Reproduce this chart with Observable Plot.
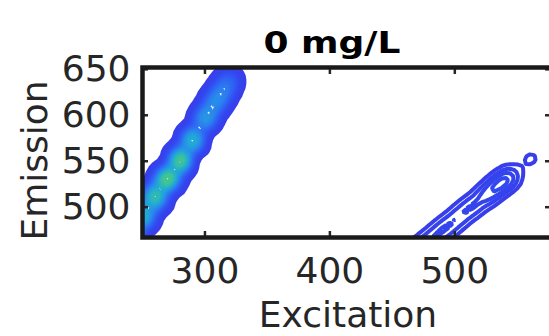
<!DOCTYPE html>
<html><head><meta charset="utf-8">
<script src="https://cdn.jsdelivr.net/npm/d3@7"></script>
<script src="https://cdn.jsdelivr.net/npm/@observablehq/plot@0.6"></script>
<style>
html,body{margin:0;padding:0;background:#fff;}
#wrap{width:549px;height:336px;overflow:hidden;position:relative;font-family:"DejaVu Sans";}
#title{height:50px;position:relative;}
#title span{position:absolute;left:232px;width:200px;top:28px;text-align:center;font-weight:bold;font-size:30px;line-height:30px;color:#000;transform:scaleX(1.2);transform-origin:50% 50%;white-space:nowrap;}
#chart svg{max-width:none !important;}
</style></head><body>
<div id="wrap"><div id="title"><span id="tt"></span></div><div id="chart"></div></div>
<script>
// Second-order scatter band (left)
const leftEx = [240, 250, 260, 270, 280, 290, 300, 307, 313, 319];
const leftEm = [470, 490, 511, 531, 551, 573, 596, 612, 624, 637];
const leftI  = [0.75, 0.85, 0.95, 1.0, 0.95, 0.8, 0.6, 0.45, 0.4, 0.33];
// First-order scatter band (right), continues below the frame; last value is the isolated dot
const rightEx = [453, 463, 473, 483, 493, 503, 513, 523, 531, 538, 545, 561];
const rightEm = [434, 445, 456, 467, 478, 489, 500, 511, 519, 527, 534, 553];
const rightI  = [0.122, 0.122, 0.122, 0.122, 0.122, 0.122, 0.122, 0.122, 0.122, 0.122, 0.122, 0.06];
const xTicks = [300, 400, 500];
const yTicks = [500, 550, 600, 650];
const titleText = "0 mg/L";
const xLabel = "Excitation";
const yLabel = "Emission";

document.getElementById("tt").textContent = titleText;

const pts = [];
leftEx.forEach((e, i) => pts.push({ex: e, em: leftEm[i], w: leftI[i]}));
rightEx.forEach((e, i) => pts.push({ex: e, em: rightEm[i], w: rightI[i]}));

const palette = ["#3a3ce8", "#3348f0", "#2f62f4", "#2a86ee", "#20aad6", "#40c592"];
const fs = 36;
const ink = "#262626";

const chart = Plot.plot({
  width: 553, height: 286,
  marginLeft: 142, marginRight: 0, marginTop: 17, marginBottom: 99,
  x: {domain: [250, 579]},
  y: {domain: [467, 652]},
  color: {type: "linear", interpolate: d3.piecewise(d3.interpolateRgb, palette)},
  style: {fontFamily: "DejaVu Sans", fontSize: fs + "px", color: ink, overflow: "visible", background: "transparent", maxWidth: "none"},
  marks: [
    Plot.density(pts, {x: "ex", y: "em", weight: "w", bandwidth: 6, thresholds: 20, stroke: "density", strokeWidth: 4, clip: true}),
    // inward ticks
    Plot.axisX({anchor: "bottom", ticks: xTicks, tickSize: 6, dy: -6, tickFormat: () => "", label: null, stroke: ink, strokeWidth: 2.5}),
    Plot.axisX({anchor: "top", ticks: xTicks, tickSize: 6, dy: 6, tickFormat: () => "", label: null, stroke: ink, strokeWidth: 2.5}),
    Plot.axisY({anchor: "left", ticks: yTicks, tickSize: 6, dx: 6, tickFormat: () => "", label: null, stroke: ink, strokeWidth: 2.5}),
    Plot.axisY({anchor: "right", ticks: yTicks, tickSize: 9, dx: -9, tickFormat: () => "", label: null, stroke: ink, strokeWidth: 2.5}),
    // tick labels
    Plot.axisX({anchor: "bottom", ticks: xTicks, tickSize: 0, tickPadding: 20, label: null, fontSize: fs, fill: ink}),
    Plot.axisY({anchor: "left", ticks: yTicks, tickSize: 0, tickPadding: 12, label: null, fontSize: fs, fill: ink}),
    Plot.frame({stroke: "#1a1a1a", strokeWidth: 4.5}),
    Plot.text([xLabel], {frameAnchor: "bottom", text: d => d, dy: 78, textAnchor: "middle", lineAnchor: "middle", fontSize: fs, fill: ink}),
    Plot.text([yLabel], {frameAnchor: "left", text: d => d, dx: -107, dy: 8, rotate: -90, textAnchor: "middle", lineAnchor: "middle", fontSize: fs, fill: ink})
  ]
});
document.getElementById("chart").appendChild(chart);
</script>
</body></html>
